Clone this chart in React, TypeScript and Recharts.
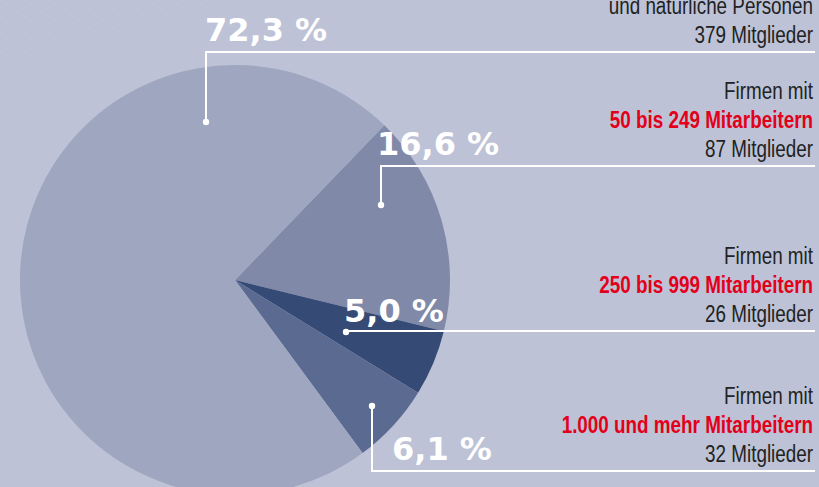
import { PieChart, Pie, Cell } from 'recharts'

// Mitglieder nach Unternehmensgröße (Reihenfolge im Uhrzeigersinn ab oben rechts)
const groups = ['50 bis 249', '250 bis 999', '1.000 und mehr', 'bis 49 / natürliche Personen']
const members = [87, 26, 32, 379]
const percentLabels = ['16,6 %', '5,0 %', '6,1 %', '72,3 %']
const textBlocks = [
  ['Firmen mit', '50 bis 249 Mitarbeitern', '87 Mitglieder'],
  ['Firmen mit', '250 bis 999 Mitarbeitern', '26 Mitglieder'],
  ['Firmen mit', '1.000 und mehr Mitarbeitern', '32 Mitglieder'],
  ['', 'und natürliche Personen', '379 Mitglieder']
]
const colors = ['#8189a8', '#354a74', '#5b6a91', '#9ea6c0']

const chartData = groups.map((name, i) => ({ name, value: members[i] }))

// Lage der Beschriftungen (Punkt im Segment, Höhe der Linie, Prozentzahl)
const dotPos = [[381, 205], [346, 332], [372, 406], [206, 122]]
const lineY = [166, 331, 471, 52]
const pctPos = [[377, 155], [344, 322], [392, 460], [205, 41]]
const RIGHT = 813

const renderLabel = (props: any) => {
  const i = props.index
  const [dx, dy] = dotPos[i]
  const ly = lineY[i]
  const lines = textBlocks[i]
  return (
    <g key={'lbl' + i}>
      <polyline
        points={`${dx},${dy} ${dx},${ly} ${RIGHT + 2},${ly}`}
        fill="none"
        stroke="#ffffff"
        strokeWidth={2}
      />
      <circle cx={dx} cy={dy} r={3.2} fill="#ffffff" />
      <text
        x={pctPos[i][0]}
        y={pctPos[i][1]}
        fill="#ffffff"
        fontFamily="'DejaVu Sans', sans-serif"
        fontWeight="bold"
        fontSize={32}
      >
        {percentLabels[i]}
      </text>
      {lines.map((t, k) => {
        const red = k === 1 && i !== 3
        return (
          <text
            key={k}
            transform={`translate(${RIGHT},${ly - 9 - (2 - k) * 29}) scale(0.82,1)`}
            x={0}
            y={0}
            textAnchor="end"
            fill={red ? '#e2001a' : '#222222'}
            fontFamily="'Liberation Sans', Arial, sans-serif"
            fontWeight={red ? 'bold' : 'normal'}
            fontSize={23}
          >
            {t}
          </text>
        )
      })}
    </g>
  )
}

export default function App() {
  return (
    <div style={{ width: 819, height: 487, background: '#bdc2d6', position: 'relative', overflow: 'hidden' }}>
      <style>{'body{margin:0}'}</style>
      <svg width={819} height={487} style={{ position: 'absolute', left: 0, top: 0 }}>
        <defs>
          <pattern id="stripes" width={14} height={14} patternUnits="userSpaceOnUse" patternTransform="rotate(-55)">
            <line x1={0} y1={0} x2={0} y2={14} stroke="#ffffff" strokeWidth={1} />
          </pattern>
          <linearGradient id="fade" x1="0" y1="0" x2="1" y2="1">
            <stop offset="0" stopColor="#ffffff" stopOpacity={0.14} />
            <stop offset="0.5" stopColor="#ffffff" stopOpacity={0.05} />
            <stop offset="1" stopColor="#ffffff" stopOpacity={0} />
          </linearGradient>
          <mask id="fadeMask">
            <rect x={0} y={0} width={700} height={200} fill="url(#fade)" />
          </mask>
        </defs>
        <rect x={0} y={0} width={700} height={200} fill="url(#stripes)" mask="url(#fadeMask)" opacity={4} />
      </svg>
      <div style={{ position: 'absolute', left: 0, top: 0 }}>
        <PieChart width={819} height={487} margin={{ top: 0, right: 0, bottom: 0, left: 0 }}>
          <Pie
            data={chartData}
            dataKey="value"
            cx={235}
            cy={280}
            outerRadius={215}
            startAngle={46}
            endAngle={-314}
            stroke="none"
            labelLine={false}
            label={renderLabel}
            isAnimationActive={false}
          >
            {chartData.map((d, i) => (
              <Cell key={d.name} fill={colors[i]} />
            ))}
          </Pie>
        </PieChart>
      </div>
    </div>
  )
}
